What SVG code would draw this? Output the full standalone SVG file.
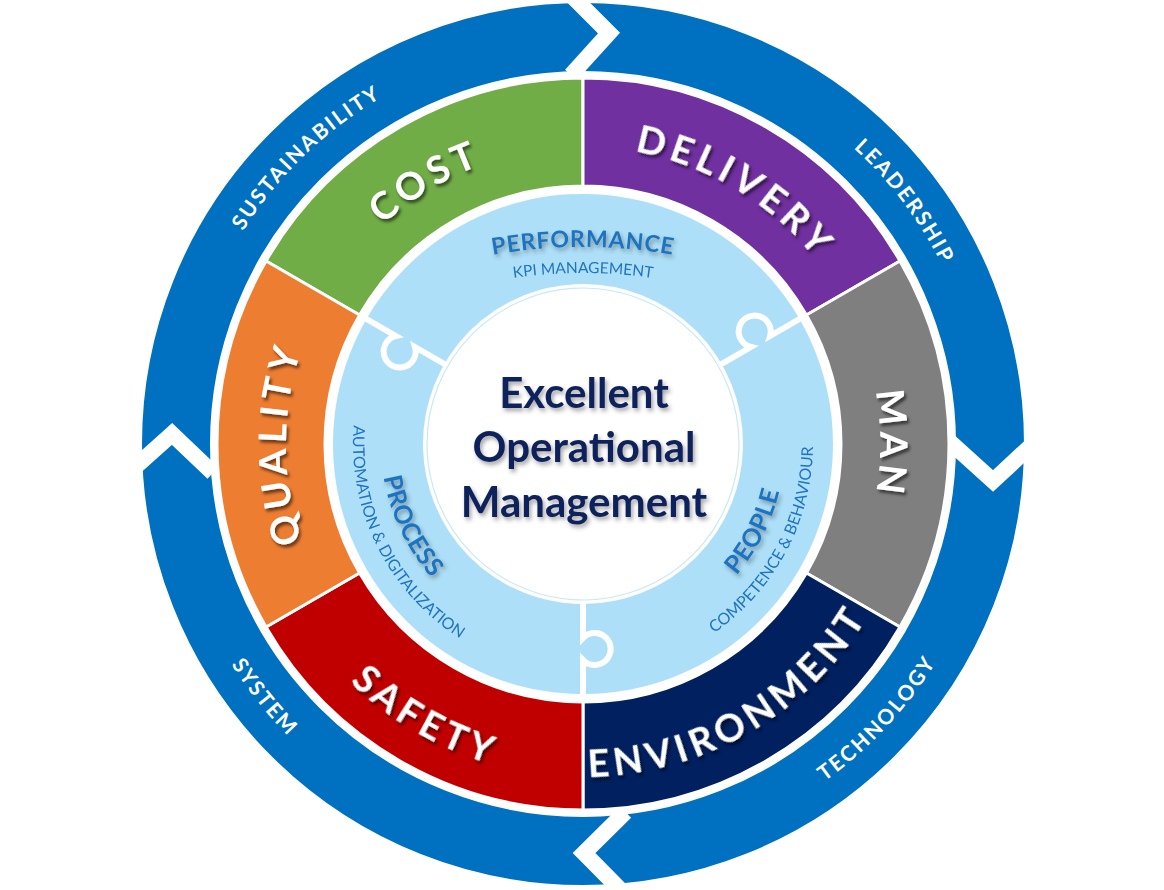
<svg xmlns="http://www.w3.org/2000/svg" width="1164" height="890" viewBox="0 0 1164 890">
<defs>
<style>
.seg{stroke:#fff;stroke-width:3}
.seg-label{font-family:Lato,"Open Sans","Liberation Sans",sans-serif;font-weight:700;font-size:38px;letter-spacing:5px;fill:#fff}
.ring-label{font-family:Lato,"Open Sans","Liberation Sans",sans-serif;font-weight:700;font-size:21px;letter-spacing:2.2px;fill:#fff}
.pz-title{font-family:Lato,"Open Sans","Liberation Sans",sans-serif;font-weight:700;font-size:25px;letter-spacing:0.5px;fill:#1f73c2}
.pz-sub{font-family:Lato,"Open Sans","Liberation Sans",sans-serif;font-weight:400;font-size:16px;fill:#1f73c2}
.center-text{font-family:Lato,"Open Sans","Liberation Sans",sans-serif;font-weight:700;font-size:42px;fill:#10235c;text-anchor:middle}
.chev{fill:none;stroke:#fff;stroke-width:16;stroke-linejoin:miter;stroke-miterlimit:10}
.pz-cut{fill:none;stroke:#fff;stroke-width:6}
</style>
<filter id="sh" x="-20%" y="-20%" width="140%" height="140%"><feDropShadow dx="2" dy="3" stdDeviation="1.8" flood-color="#000" flood-opacity="0.55"/></filter>
<filter id="sh2" x="-20%" y="-20%" width="140%" height="140%"><feDropShadow dx="2" dy="3" stdDeviation="2" flood-color="#333" flood-opacity="0.45"/></filter>
<path id="aOut297" d="M 325.8 295.5 A 297 297 0 0 1 840.2 295.5"/>
<path id="aIn333" d="M 294.6 610.5 A 333 333 0 0 0 871.4 610.5"/>
<path id="aOut401" d="M 235.7 243.5 A 401 401 0 0 1 930.3 243.5"/>
<path id="aIn415" d="M 223.6 651.5 A 415 415 0 0 0 942.4 651.5"/>
<path id="aPerf" d="M 364.9 295.3 A 516 516 0 0 1 801.1 295.3"/>
<path id="aKpi" d="M 375.9 318.9 A 490 490 0 0 1 790.1 318.9"/>
<path id="aIn202" d="M 408.1 545 A 202 202 0 0 0 757.9 545"/>
<path id="aIn230" d="M 383.8 559 A 230 230 0 0 0 782.2 559"/>
<path id="cut" d="M 158 0 L 194 0 A 16 16 0 1 1 216 0 L 252 0"/>
</defs>
<rect width="1164" height="890" fill="#fff"/>

<g id="cycle-arrows">
  <circle cx="583" cy="444" r="407" fill="none" stroke="#0070C0" stroke-width="68"/>
  <polyline class="chev" points="566,-10 609,33 571,75"/>
  <polyline class="chev" points="950,442 993,481 1035,442"/>
  <polyline class="chev" points="625.5,812 584,853 628.5,898"/>
  <polyline class="chev" points="129,472.5 172,434 213,473"/>
  <circle cx="583" cy="444" r="372" fill="#fff"/>
  <g id="ring-labels">
    <text class="ring-label" transform="rotate(-44 583 444)"><textPath href="#aOut401" startOffset="50%" text-anchor="middle">SUSTAINABILITY</textPath></text>
    <text class="ring-label" transform="rotate(53 583 444)"><textPath href="#aOut401" startOffset="50%" text-anchor="middle">LEADERSHIP</textPath></text>
    <text class="ring-label" transform="rotate(-47 583 444)"><textPath href="#aIn415" startOffset="50%" text-anchor="middle">TECHNOLOGY</textPath></text>
    <text class="ring-label" transform="rotate(51.5 583 444)"><textPath href="#aIn415" startOffset="50%" text-anchor="middle">SYSTEM</textPath></text>
  </g>
</g>

<g id="segments">
  <g id="seg-cost"><path class="seg" fill="#70AD47" d="M 266.04 261 A 366 366 0 0 1 583 78 L 583 186 A 258 258 0 0 0 359.57 315 Z"/></g>
  <g id="seg-delivery"><path class="seg" fill="#7030A0" d="M 583 78 A 366 366 0 0 1 899.96 261 L 806.43 315 A 258 258 0 0 0 583 186 Z"/></g>
  <g id="seg-man"><path class="seg" fill="#7F7F7F" d="M 899.96 261 A 366 366 0 0 1 899.96 627 L 806.43 573 A 258 258 0 0 0 806.43 315 Z"/></g>
  <g id="seg-environment"><path class="seg" fill="#002060" d="M 899.96 627 A 366 366 0 0 1 583 810 L 583 702 A 258 258 0 0 0 806.43 573 Z"/></g>
  <g id="seg-safety"><path class="seg" fill="#C00000" d="M 583 810 A 366 366 0 0 1 266.04 627 L 359.57 573 A 258 258 0 0 0 583 702 Z"/></g>
  <g id="seg-quality"><path class="seg" fill="#ED7D31" d="M 266.04 627 A 366 366 0 0 1 266.04 261 L 359.57 315 A 258 258 0 0 0 359.57 573 Z"/></g>
  <g id="seg-labels" filter="url(#sh)">
    <text class="seg-label" transform="rotate(-31 583 444)"><textPath href="#aOut297" startOffset="50%" text-anchor="middle">COST</textPath></text>
    <text class="seg-label" transform="rotate(31 583 444)"><textPath href="#aOut297" startOffset="50%" text-anchor="middle">DELIVERY</textPath></text>
    <text class="seg-label" transform="rotate(90 583 444)"><textPath href="#aOut297" startOffset="50%" text-anchor="middle">MAN</textPath></text>
    <text class="seg-label" transform="rotate(-90 583 444)"><textPath href="#aOut297" startOffset="50%" text-anchor="middle">QUALITY</textPath></text>
    <text class="seg-label" transform="rotate(-30 583 444)"><textPath href="#aIn333" startOffset="50%" text-anchor="middle">ENVIRONMENT</textPath></text>
    <text class="seg-label" transform="rotate(30 583 444)"><textPath href="#aIn333" startOffset="50%" text-anchor="middle">SAFETY</textPath></text>
  </g>
</g>

<g id="puzzle">
  <circle cx="583" cy="444" r="205" fill="none" stroke="#ade0f8" stroke-width="90"/>
  <circle cx="583" cy="444" r="156" fill="none" stroke="#c9e8f7" stroke-width="1.2"/>
  <g transform="translate(583 444)">
    <use href="#cut" class="pz-cut" transform="rotate(210)"/>
    <use href="#cut" class="pz-cut" transform="rotate(330)"/>
    <use href="#cut" class="pz-cut" transform="rotate(90)"/>
  </g>
  <g id="piece-performance">
    <g filter="url(#sh2)"><text class="pz-title" style="font-size:23px;letter-spacing:0.8px"><textPath href="#aPerf" startOffset="50%" text-anchor="middle">PERFORMANCE</textPath></text></g>
    <text class="pz-sub" style="font-size:15.5px"><textPath href="#aKpi" startOffset="50%" text-anchor="middle">KPI MANAGEMENT</textPath></text>
  </g>
  <g id="piece-process">
    <g filter="url(#sh2)"><text class="pz-title" transform="rotate(64.5 583 444)"><textPath href="#aIn202" startOffset="50%" text-anchor="middle">PROCESS</textPath></text></g>
    <text class="pz-sub" transform="rotate(63.5 583 444)"><textPath href="#aIn230" startOffset="50%" text-anchor="middle">AUTOMATION &amp; DIGITALIZATION</textPath></text>
  </g>
  <g id="piece-people">
    <g filter="url(#sh2)"><text class="pz-title" transform="rotate(-63 583 444)"><textPath href="#aIn202" startOffset="50%" text-anchor="middle">PEOPLE</textPath></text></g>
    <text class="pz-sub" transform="rotate(-62 583 444)"><textPath href="#aIn230" startOffset="50%" text-anchor="middle">COMPETENCE &amp; BEHAVIOUR</textPath></text>
  </g>
</g>

<g id="center" filter="url(#sh2)">
  <text class="center-text" x="584" y="408">Excellent</text>
  <text class="center-text" x="584" y="462">Operational</text>
  <text class="center-text" x="584" y="517">Management</text>
</g>
</svg>
